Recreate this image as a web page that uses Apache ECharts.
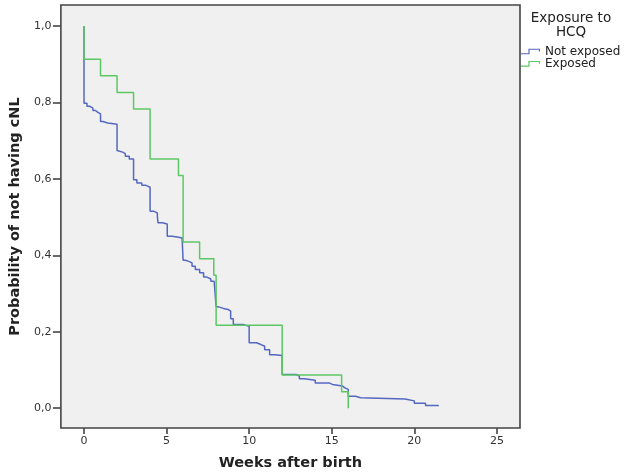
<!DOCTYPE html>
<html>
<head>
<meta charset="utf-8">
<script src="https://cdn.jsdelivr.net/npm/echarts@6/dist/echarts.min.js"></script>
<style>
html,body{margin:0;padding:0;background:#fff;}
#chart{width:625px;height:476px;}
</style>
</head>
<body>
<div id="chart"></div>
<script>
// Kaplan-Meier curves
var seriesNames = ['Not exposed', 'Exposed'];
var notExposedWeeks = [0, 0, 0.18, 0.34, 0.54, 0.70, 0.84, 1.0, 1.14, 1.44, 2.0, 2.12, 2.34, 2.5, 2.74, 3.0, 3.2, 3.5, 3.75, 4.0, 4.24, 4.44, 4.48, 4.74, 5.04, 5.34, 5.64, 5.94, 6.0, 6.14, 6.34, 6.54, 6.74, 7.0, 7.24, 7.44, 7.68, 7.88, 8.0, 8.14, 8.44, 8.74, 8.88, 9.04, 9.64, 10.0, 10.44, 10.68, 10.94, 11.24, 11.54, 12.0, 12.84, 13.04, 13.34, 14.0, 14.84, 15.04, 15.64, 15.8, 16.0, 16.44, 16.74, 19.44, 20.0, 20.68, 21.45];
var notExposedSurv = [1.0, 0.798, 0.790, 0.785, 0.779, 0.774, 0.770, 0.750, 0.746, 0.743, 0.674, 0.670, 0.666, 0.659, 0.652, 0.598, 0.589, 0.583, 0.578, 0.515, 0.511, 0.502, 0.485, 0.482, 0.450, 0.448, 0.445, 0.441, 0.387, 0.384, 0.380, 0.371, 0.363, 0.354, 0.343, 0.338, 0.332, 0.328, 0.265, 0.261, 0.258, 0.254, 0.234, 0.219, 0.214, 0.171, 0.167, 0.162, 0.153, 0.140, 0.138, 0.088, 0.084, 0.077, 0.073, 0.066, 0.062, 0.058, 0.053, 0.049, 0.031, 0.027, 0.024, 0.019, 0.013, 0.007, 0.005];
var exposedWeeks = [0, 0, 1, 2, 3, 4, 5.72, 6, 7, 7.86, 8, 12, 15.6, 16];
var exposedSurv = [1.0, 0.913, 0.870, 0.826, 0.783, 0.652, 0.609, 0.435, 0.391, 0.348, 0.217, 0.087, 0.043, 0.0];
var xTicks = [0, 5, 10, 15, 20, 25];
var yTicks = [0, 0.2, 0.4, 0.6, 0.8, 1.0];

function pairs(xs, ys) { return xs.map(function (x, i) { return [x, ys[i]]; }); }

var chart = echarts.init(document.getElementById('chart'), null, {renderer: 'canvas'});
var FONT = 'DejaVu Sans';
var legendIcon = 'path://M0,4.8 L7.8,4.8 L7.8,0 L20,0 L20,3 L18.8,3 L18.8,1.2 L9,1.2 L9,6 L0,6 Z';

chart.setOption({
  animation: false,
  backgroundColor: '#ffffff',
  textStyle: {fontFamily: FONT},
  grid: {
    left: 56, right: 105, top: 5, bottom: 47.5,
    show: true, backgroundColor: '#f0f0f0', borderColor: '#444444', borderWidth: 1.6
  },
  graphic: [{
    type: 'text', x: 571, y: 12,
    style: {text: 'Exposure to\nHCQ', textAlign: 'center', textVerticalAlign: 'top',
      fontFamily: FONT, fontSize: 13.5, lineHeight: 13.5, fill: '#222'}
  }],
  legend: {
    orient: 'vertical', left: 521, top: 45.5, padding: 0,
    itemWidth: 19, itemHeight: 6, itemGap: 0.3,
    icon: legendIcon,
    itemStyle: {borderWidth: 0},
    textStyle: {fontFamily: FONT, fontSize: 12, lineHeight: 12, color: '#222'},
    data: seriesNames
  },
  xAxis: {
    type: 'value', min: -1.4, max: 26.4,
    name: 'Weeks after birth', nameLocation: 'middle', nameGap: 28,
    nameTextStyle: {fontFamily: FONT, fontSize: 14.5, fontWeight: 'bold', color: '#222'},
    axisLine: {show: false, onZero: false},
    axisTick: {show: true, length: 6, customValues: xTicks, lineStyle: {color: '#444', width: 1.6}},
    axisLabel: {customValues: xTicks, margin: 8, fontFamily: FONT, fontSize: 11, color: '#333'},
    splitLine: {show: false}
  },
  yAxis: {
    type: 'value', min: -0.052, max: 1.055,
    name: 'Probability of not having cNL', nameLocation: 'middle', nameGap: 37,
    nameTextStyle: {fontFamily: FONT, fontSize: 14.5, fontWeight: 'bold', color: '#222'},
    axisLine: {show: false, onZero: false},
    axisTick: {show: true, length: 8, customValues: yTicks, lineStyle: {color: '#444', width: 1.6}},
    axisLabel: {customValues: yTicks, margin: 9.5, fontFamily: FONT, fontSize: 11, color: '#333',
      formatter: function (v) { return v.toFixed(1).replace('.', ','); }},
    splitLine: {show: false}
  },
  series: [
    {
      name: seriesNames[0], type: 'line', step: 'end', showSymbol: false, symbol: 'none',
      data: pairs(notExposedWeeks, notExposedSurv),
      itemStyle: {color: '#5468c2'},
      lineStyle: {color: '#5468c2', width: 1.5}
    },
    {
      name: seriesNames[1], type: 'line', step: 'end', showSymbol: false, symbol: 'none',
      data: pairs(exposedWeeks, exposedSurv),
      itemStyle: {color: '#5cc763'},
      lineStyle: {color: '#5cc763', width: 1.5}
    }
  ]
});
</script>
</body>
</html>
